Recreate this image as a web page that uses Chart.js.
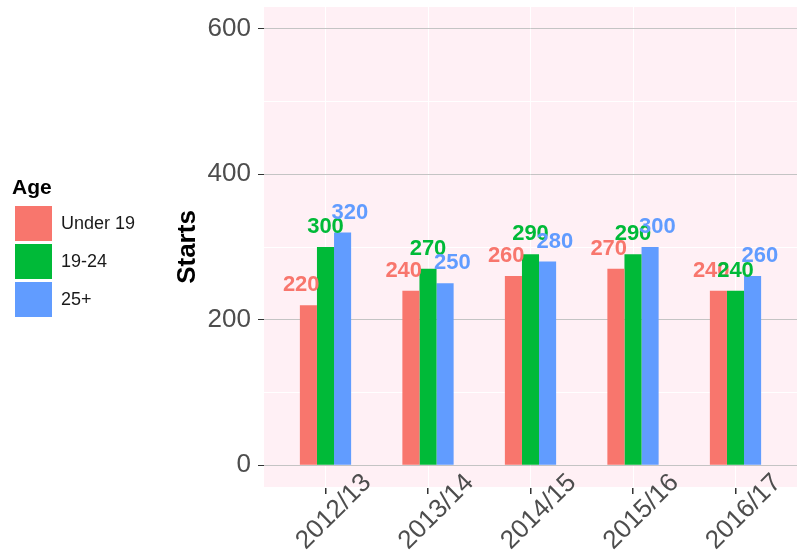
<!DOCTYPE html>
<html>
<head>
<meta charset="utf-8">
<script src="https://cdn.jsdelivr.net/npm/chart.js@4/dist/chart.umd.min.js"></script>
<style>
  html, body { margin: 0; padding: 0; background: #ffffff; }
  #wrap { width: 800px; height: 550px; position: relative; }
</style>
</head>
<body>
<div id="wrap"><canvas id="startsChart"></canvas></div>
<script>
// Chart data
const years = ["2012/13", "2013/14", "2014/15", "2015/16", "2016/17"];
const ageGroups = ["Under 19", "19-24", "25+"];
const under19 = [220, 240, 260, 270, 240];
const age19to24 = [300, 270, 290, 290, 240];
const age25plus = [320, 250, 280, 300, 260];
const seriesColors = ["#F8766D", "#00BA38", "#619CFF"];
const yMajorTicks = [0, 200, 400, 600];
const yMinorTicks = [100, 300, 500];

const FONT = "'Liberation Sans', Arial, sans-serif";

// pink panel behind the grid
const panelBackground = {
  id: "panelBackground",
  beforeDraw(chart) {
    const { ctx, chartArea } = chart;
    ctx.save();
    ctx.fillStyle = "#fff0f5";
    ctx.fillRect(chartArea.left, chartArea.top, chartArea.right - chartArea.left, chartArea.bottom - chartArea.top);
    ctx.restore();
  },
};

// value labels above the bars
const valueLabels = {
  id: "valueLabels",
  afterDatasetsDraw(chart) {
    const { ctx } = chart;
    const xScale = chart.scales.x;
    const unit = xScale.getPixelForValue(1) - xScale.getPixelForValue(0);
    ctx.save();
    ctx.font = "bold 22px " + FONT;
    ctx.textAlign = "center";
    ctx.textBaseline = "middle";
    chart.data.datasets.forEach((ds, di) => {
      const meta = chart.getDatasetMeta(di);
      ctx.fillStyle = ds.backgroundColor;
      meta.data.forEach((bar, i) => {
        const shift = (di - 1) * 0.07 * unit;
        ctx.fillText(String(ds.data[i].y), bar.x + shift, bar.y - 20);
      });
    });
    ctx.restore();
  },
};

// rotated year labels (centred like ggplot, so they are drawn here, unclipped)
const yearLabels = {
  id: "yearLabels",
  afterDraw(chart) {
    const { ctx, chartArea } = chart;
    const xScale = chart.scales.x;
    ctx.save();
    ctx.font = "26px " + FONT;
    ctx.fillStyle = "#4d4d4d";
    ctx.textAlign = "center";
    ctx.textBaseline = "middle";
    years.forEach((label, i) => {
      const px = xScale.getPixelForValue(i);
      // small tick mark under the panel
      ctx.fillStyle = "#333333";
      ctx.fillRect(Math.round(px) - 1, chartArea.bottom + 1, 1.5, 6);
      ctx.fillStyle = "#4d4d4d";
      ctx.save();
      ctx.translate(px + 8.5, chartArea.bottom + 25);
      ctx.rotate(-Math.PI / 4);
      ctx.fillText(label, 0, 0);
      ctx.restore();
    });
    ctx.restore();
  },
};

const seriesValues = [under19, age19to24, age25plus];
const datasets = ageGroups.map((name, si) => ({
  label: name,
  data: seriesValues[si].map((v, i) => ({ x: i, y: v })),
  backgroundColor: seriesColors[si],
  borderWidth: 0,
  categoryPercentage: 0.5,
  barPercentage: 1.0,
}));

const ctx = document.getElementById("startsChart").getContext("2d");
new Chart(ctx, {
  type: "bar",
  data: { datasets: datasets },
  plugins: [panelBackground, valueLabels, yearLabels],
  options: {
    responsive: true,
    maintainAspectRatio: false,
    animation: false,
    layout: { padding: { left: 12, top: 7, right: 3, bottom: 0 } },
    plugins: {
      tooltip: { enabled: false },
      legend: {
        position: "left",
        fullSize: false,
        align: "center",
        title: {
          display: true,
          text: "Age",
          position: "start",
          color: "#000000",
          font: { family: FONT, size: 21, weight: "bold" },
          padding: { top: 4, bottom: 0 },
        },
        labels: {
          boxWidth: 37,
          boxHeight: 35,
          padding: 3,
          color: "#1a1a1a",
          font: { family: FONT, size: 18 },
        },
      },
    },
    scales: {
      x: {
        type: "linear",
        offset: false,
        min: -0.6,
        max: 4.6,
        afterBuildTicks(scale) {
          scale.ticks = years.map((y, i) => ({ value: i }));
        },
        afterFit(scale) {
          scale.height = 63;
          scale.paddingLeft = 0;
          scale.paddingRight = 0;
        },
        border: { display: false },
        grid: {
          offset: false,
          color: "#ffffff",
          lineWidth: 1,
          drawTicks: false,
        },
        ticks: { display: false },
      },
      y: {
        min: -30,
        max: 630,
        afterBuildTicks(scale) {
          scale.ticks = yMajorTicks.concat(yMinorTicks)
            .sort((a, b) => a - b)
            .map((v) => ({ value: v }));
        },
        afterFit(scale) {
          const lw = scale.chart.legend && scale.chart.legend.width ? scale.chart.legend.width : 130;
          scale.width = 264 - 12 - lw;
          scale.paddingTop = 0;
          scale.paddingBottom = 0;
        },
        border: { display: false },
        grid: {
          color: (c) => (c.tick && yMajorTicks.includes(c.tick.value) ? "#c4c4c4" : "#ffffff"),
          lineWidth: 1,
          tickColor: (c) => (c.tick && yMajorTicks.includes(c.tick.value) ? "#333333" : "rgba(0,0,0,0)"),
          tickLength: 6,
        },
        ticks: {
          padding: 7,
          color: "#4d4d4d",
          font: { family: FONT, size: 26 },
          callback: (v) => (yMajorTicks.includes(v) ? v : ""),
        },
        title: {
          display: true,
          text: "Starts",
          color: "#000000",
          font: { family: FONT, size: 26, weight: "bold" },
          padding: { top: 27, bottom: 4 },
        },
      },
    },
  },
});
</script>
</body>
</html>
